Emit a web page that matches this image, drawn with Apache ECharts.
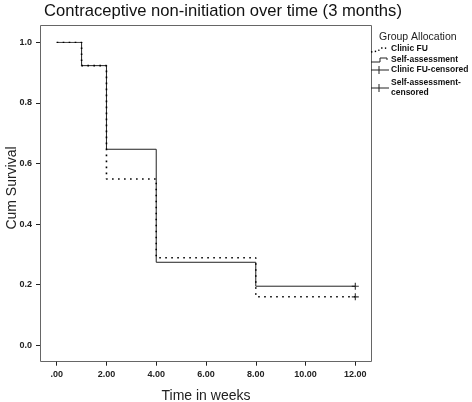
<!DOCTYPE html>
<html><head><meta charset="utf-8">
<script src="https://cdn.jsdelivr.net/npm/echarts@6/dist/echarts.min.js"></script>
<style>html,body{margin:0;padding:0;background:#fff}#c{width:472px;height:402px}</style>
</head><body><div id="c"></div>
<script>
// Data
const timesWeeks = [0, 1, 2, 4, 8, 12];
const clinicFU = [1.0, 0.923, 0.549, 0.289, 0.160, 0.160];
const selfAssessment = [1.0, 0.923, 0.647, 0.274, 0.195, 0.195];
const clinicCensored = [[12, 0.160]];
const selfCensored = [[12, 0.195]];
const xTicks = [0, 2, 4, 6, 8, 10, 12];
const yTicks = [0, 0.2, 0.4, 0.6, 0.8, 1.0];

const chart = echarts.init(document.getElementById('c'), null, {renderer: 'canvas'});
const FONT = 'Liberation Sans, Arial, sans-serif';
const plus = 'path://M0,4.2h10v1.6h-10z M4.2,0h1.6v10h-1.6z';

const toPairs = ys => timesWeeks.map((t, i) => [t, ys[i]]);

chart.setOption({
  animation: false,
  backgroundColor: '#fff',
  textStyle: {fontFamily: FONT},
  grid: {left: 56.7, right: 116.7, top: 42.3, bottom: 56.7, containLabel: false, outerBoundsMode: 'none'},
  xAxis: {
    type: 'value', min: 0, max: 12, interval: 2, offset: 16.4,
    axisLine: {show: true, onZero: false, lineStyle: {color: '#666', width: 1}},
    axisTick: {show: true, length: 4, lineStyle: {color: '#222'}},
    splitLine: {show: false},
    axisLabel: {margin: 8, fontSize: 9, fontWeight: 'bold', color: '#222', fontFamily: FONT,
      formatter: v => v === 0 ? '.00' : v.toFixed(2)},
    name: 'Time in weeks', nameLocation: 'middle', nameGap: 27,
    nameTextStyle: {fontSize: 14, color: '#222', fontFamily: FONT}
  },
  yAxis: {
    type: 'value', min: 0, max: 1, interval: 0.2, offset: 16.7,
    axisLine: {show: true, onZero: false, lineStyle: {color: '#666', width: 1}},
    axisTick: {show: true, length: 4, lineStyle: {color: '#222'}},
    splitLine: {show: false},
    axisLabel: {margin: 8, fontSize: 9, fontWeight: 'bold', color: '#222', fontFamily: FONT,
      formatter: v => v.toFixed(1)}
  },
  series: [
    {name: 'Self-assessment', type: 'line', step: 'end', data: toPairs(selfAssessment),
      showSymbol: false, symbol: 'none', lineStyle: {color: '#222', width: 1}, z: 2},
    {name: 'Clinic FU', type: 'line', step: 'end', data: toPairs(clinicFU),
      showSymbol: false, symbol: 'none', lineStyle: {color: '#000', width: 1.6, type: [1.6, 4.4]}, z: 3},
    {name: 'Clinic FU-censored', type: 'scatter', data: clinicCensored, symbol: plus, symbolSize: 7,
      itemStyle: {color: '#000'}, z: 4},
    {name: 'Self-assessment-censored', type: 'scatter', data: selfCensored, symbol: plus, symbolSize: 7,
      itemStyle: {color: '#000'}, z: 4}
  ],
  graphic: [
    {type: 'rect', shape: {x: 40.5, y: 25.5, width: 331, height: 336}, silent: true,
      style: {fill: 'none', stroke: '#666', lineWidth: 1}, z: 0},
    {type: 'text', x: 223, y: 11, style: {text: 'Contraceptive non-initiation over time (3 months)',
      font: '16.6px ' + FONT, fill: '#111', align: 'center', verticalAlign: 'middle'}},
    {type: 'text', x: 12, y: 188, rotation: Math.PI / 2, style: {text: 'Cum Survival',
      font: '14px ' + FONT, fill: '#222', align: 'center', verticalAlign: 'middle'}},
    {type: 'text', x: 379, y: 37, style: {text: 'Group Allocation', font: '10.5px ' + FONT,
      fill: '#222', align: 'left', verticalAlign: 'middle'}},
    // legend symbols
    {type: 'polyline', shape: {points: [[371, 52], [378, 51], [381, 48], [385, 48], [388, 49]]},
      style: {stroke: '#000', lineWidth: 1.4, lineDash: [1.4, 2.4], fill: 'none'}},
    {type: 'polyline', shape: {points: [[371, 62], [380, 62], [380, 58], [387, 58], [387, 60]]},
      style: {stroke: '#222', lineWidth: 1, fill: 'none'}},
    {type: 'line', shape: {x1: 371, y1: 70, x2: 389, y2: 70}, style: {stroke: '#222', lineWidth: 1}},
    {type: 'line', shape: {x1: 379, y1: 66, x2: 379, y2: 74}, style: {stroke: '#222', lineWidth: 1}},
    {type: 'line', shape: {x1: 371, y1: 88, x2: 389, y2: 88}, style: {stroke: '#222', lineWidth: 1}},
    {type: 'line', shape: {x1: 379, y1: 84, x2: 379, y2: 92}, style: {stroke: '#222', lineWidth: 1}},
    // legend texts
    {type: 'text', x: 391, y: 49, style: {text: 'Clinic FU', font: 'bold 8.5px ' + FONT, fill: '#111', verticalAlign: 'middle'}},
    {type: 'text', x: 391, y: 59.5, style: {text: 'Self-assessment', font: 'bold 8.5px ' + FONT, fill: '#111', verticalAlign: 'middle'}},
    {type: 'text', x: 391, y: 70, style: {text: 'Clinic FU-censored', font: 'bold 8.5px ' + FONT, fill: '#111', verticalAlign: 'middle'}},
    {type: 'text', x: 391, y: 83, style: {text: 'Self-assessment-', font: 'bold 8.5px ' + FONT, fill: '#111', verticalAlign: 'middle'}},
    {type: 'text', x: 391, y: 92.5, style: {text: 'censored', font: 'bold 8.5px ' + FONT, fill: '#111', verticalAlign: 'middle'}}
  ]
});
</script>
</body></html>
